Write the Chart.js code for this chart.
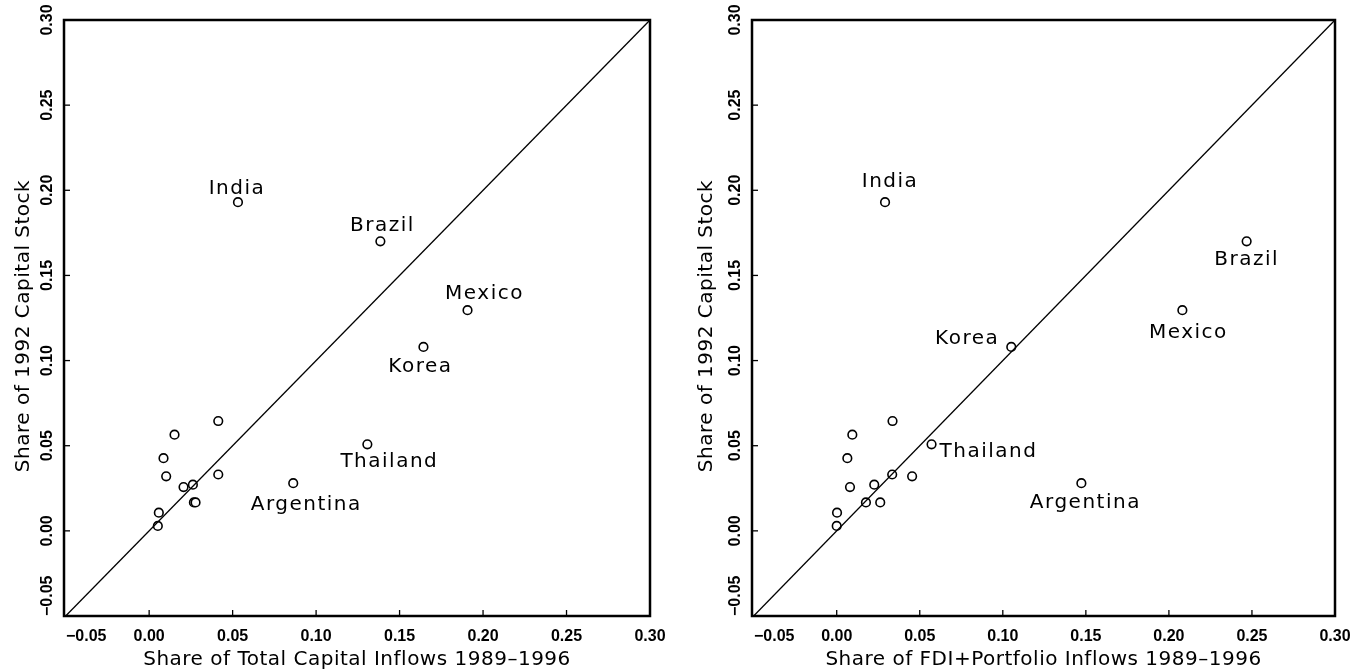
<!DOCTYPE html>
<html>
<head>
<meta charset="utf-8">
<script src="https://cdn.jsdelivr.net/npm/chart.js@4/dist/chart.umd.min.js"></script>
<style>
  body { margin: 0; background: #fff; }
  .wrap { display: flex; width: 1352px; height: 671px; }
  canvas { display: block; }
</style>
</head>
<body>
<div class="wrap">
  <canvas id="left" width="676" height="671"></canvas>
  <canvas id="right" width="676" height="671"></canvas>
</div>
<script>
// country names (blank = unlabelled small economies)
const countries = ["India", "Brazil", "Mexico", "Korea", "Thailand", "Argentina",
  "", "", "", "", "", "", "", "", "", "", ""];
// share of 1992 capital stock (y, both panels)
const capitalShare = [0.193, 0.170, 0.1296, 0.108, 0.0508, 0.028,
  0.0645, 0.0565, 0.0427, 0.0331, 0.0320, 0.0271, 0.0257, 0.0167, 0.0167, 0.0107, 0.0029];
// share of total capital inflows 1989-1996 (x, left panel)
const totalInflows = [0.0532, 0.1385, 0.1907, 0.1643, 0.1307, 0.0863,
  0.0414, 0.0152, 0.0086, 0.0414, 0.0102, 0.0262, 0.0206, 0.0268, 0.0278, 0.0058, 0.0052];
// share of FDI + portfolio inflows 1989-1996 (x, right panel)
const fdiPortfolioInflows = [0.0291, 0.2468, 0.2081, 0.1051, 0.0571, 0.1473,
  0.0336, 0.0094, 0.0064, 0.0334, 0.0454, 0.0226, 0.0080, 0.0176, 0.0262, 0.0002, 0.0000];
const tickValues = [-0.05, 0.00, 0.05, 0.10, 0.15, 0.20, 0.25, 0.30];
const diagonal = [-0.05, 0.30];
const yTitle = "Share of 1992 Capital Stock";

// label placement relative to the point, in pixels
const leftOffsets = {
  India: [-1, -13, "center"], Brazil: [2, -16, "center"], Mexico: [17, -16, "center"],
  Korea: [-3, 20, "center"], Thailand: [22, 17, "center"], Argentina: [13, 22, "center"]
};
const rightOffsets = {
  India: [5, -20, "center"], Brazil: [0, 18, "center"], Mexico: [6, 23, "center"],
  Korea: [-12, -8, "right"], Thailand: [8, 7, "left"], Argentina: [4, 20, "center"]
};

const FONT = "'DejaVu Sans', sans-serif";
const TICKFONT = "bold 16px 'Liberation Sans', sans-serif";

const framePlugin = {
  id: "frame",
  afterDraw(chart, args, opts) {
    const { ctx, chartArea: a, scales: { x, y } } = chart;
    ctx.save();
    // thick frame
    ctx.strokeStyle = "#000";
    ctx.lineWidth = 2.5;
    ctx.strokeRect(a.left, a.top, a.right - a.left, a.bottom - a.top);
    // inward tick marks
    ctx.lineWidth = 1.3;
    tickValues.forEach(v => {
      if (v > -0.05 && v < 0.30) {
        const px = x.getPixelForValue(v);
        ctx.beginPath(); ctx.moveTo(px, a.bottom); ctx.lineTo(px, a.bottom - 6); ctx.stroke();
        const py = y.getPixelForValue(v);
        ctx.beginPath(); ctx.moveTo(a.left, py); ctx.lineTo(a.left + 6, py); ctx.stroke();
      }
    });
    ctx.fillStyle = "#000";
    ctx.font = TICKFONT;
    ctx.textBaseline = "middle";
    // x tick labels
    tickValues.forEach((v, i) => {
      const px = x.getPixelForValue(v);
      ctx.textAlign = i === 0 ? "left" : "center";
      ctx.fillText(v.toFixed(2).replace("-", "\u2212"), i === 0 ? a.left + 2 : px, a.bottom + 21);
    });
    // rotated y tick labels
    tickValues.forEach((v, i) => {
      const py = y.getPixelForValue(v);
      ctx.save();
      ctx.translate(a.left - 16, i === 0 ? a.bottom : py);
      ctx.rotate(-Math.PI / 2);
      ctx.textAlign = i === 0 ? "left" : "center";
      ctx.fillText(v.toFixed(2).replace("-", "\u2212"), 0, 0);
      ctx.restore();
    });
    // axis titles
    ctx.font = "20px " + FONT;
    ctx.letterSpacing = "0.5px";
    ctx.textAlign = "center";
    ctx.fillText(opts.xTitle, (a.left + a.right) / 2, a.bottom + 44);
    ctx.save();
    ctx.translate(a.left - opts.titleGap, (a.top + a.bottom) / 2 + 8);
    ctx.rotate(-Math.PI / 2);
    ctx.fillText(yTitle, 0, 0);
    ctx.restore();
    // country labels
    ctx.font = "20px " + FONT;
    ctx.letterSpacing = "1.5px";
    const xs = opts.xs;
    countries.forEach((name, i) => {
      if (!name) return;
      const o = opts.offsets[name];
      ctx.textAlign = o[2];
      ctx.fillText(name, x.getPixelForValue(xs[i]) + o[0], y.getPixelForValue(capitalShare[i]) + o[1]);
    });
    ctx.restore();
  }
};

function makeChart(id, xs, xTitle, pad, offsets, titleGap) {
  const pts = capitalShare.map((v, i) => ({ x: xs[i], y: v }));
  new Chart(document.getElementById(id), {
    type: "scatter",
    data: {
      datasets: [
        {
          type: "line",
          data: diagonal.map(v => ({ x: v, y: v })),
          borderColor: "#000",
          borderWidth: 1.3,
          pointRadius: 0,
          fill: false
        },
        {
          data: pts,
          pointRadius: 4.3,
          pointBorderWidth: 1.6,
          pointBorderColor: "#000",
          pointBackgroundColor: "#fff"
        },
        {
          data: pts,
          pointRadius: 0.9,
          pointBorderWidth: 0,
          pointBackgroundColor: "#000"
        }
      ]
    },
    options: {
      responsive: false,
      animation: false,
      layout: { padding: { top: pad.top, right: pad.right, left: 0, bottom: 0 } },
      plugins: {
        legend: { display: false },
        tooltip: { enabled: false },
        frame: { xs, offsets, titleGap, xTitle }
      },
      scales: {
        x: {
          type: "linear",
          min: -0.051,
          max: 0.30,
          afterBuildTicks: s => { s.ticks = tickValues.map(v => ({ value: v })); },
          afterFit: s => { s.height = 671 - pad.bottomEdge; },
          grid: { display: false, drawTicks: false },
          border: { display: false },
          ticks: { display: false }
        },
        y: {
          type: "linear",
          min: -0.05,
          max: 0.30,
          afterBuildTicks: s => { s.ticks = tickValues.map(v => ({ value: v })); },
          afterFit: s => { s.width = pad.left; },
          grid: { display: false, drawTicks: false },
          border: { display: false },
          ticks: { display: false }
        }
      }
    },
    plugins: [framePlugin]
  });
}

makeChart("left", totalInflows, "Share of Total Capital Inflows 1989\u20131996",
  { top: 20, right: 26, left: 64, bottomEdge: 616 }, leftOffsets, 40);
makeChart("right", fdiPortfolioInflows, "Share of FDI+Portfolio Inflows 1989\u20131996",
  { top: 20, right: 17, left: 76, bottomEdge: 616 }, rightOffsets, 45);
</script>
</body>
</html>
